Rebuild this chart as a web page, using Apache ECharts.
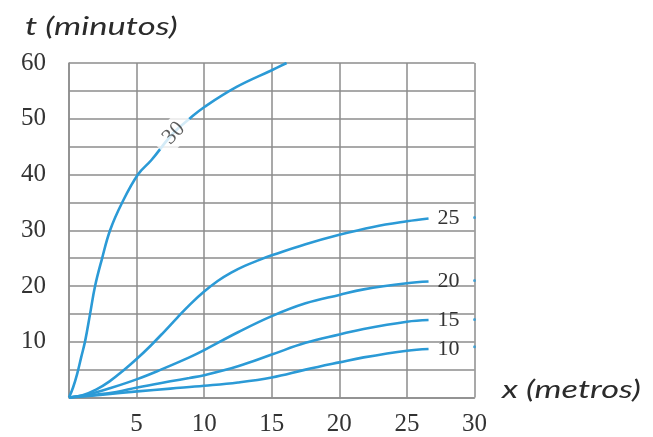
<!DOCTYPE html>
<html>
<head>
<meta charset="utf-8">
<script src="https://cdn.jsdelivr.net/npm/echarts@6/dist/echarts.min.js"></script>
<style>
  html, body { margin: 0; padding: 0; background: #fff; }
  #chart { width: 653px; height: 437px; }
</style>
</head>
<body>
<div id="chart"></div>
<script>
// Axis ticks
const xTicks = [0, 5, 10, 15, 20, 25, 30];
const yTicks = [0, 10, 20, 30, 40, 50, 60];

// Curve "30"
const x30 = [0, 0.3, 0.6, 0.9, 1.2, 1.56, 1.93, 2.42, 3.04, 3.9, 5.1, 6.1, 7.7, 8.96, 10.07, 12.4, 15, 16.1];
const t30 = [0, 1.8, 4.2, 7.2, 10.2, 15, 20, 24.7, 30, 34.8, 40, 42.6, 47.4, 50.1, 52.2, 55.7, 58.7, 60];
// Curve "25"
const x25 = [0, 1, 2, 3, 4, 5, 6, 7, 8, 9, 10, 11, 12, 13, 14, 15, 17.5, 20, 22.5, 25, 26.6];
const t25 = [0, 0.4, 1.4, 2.9, 4.8, 6.9, 9.2, 11.7, 14.3, 16.8, 19.0, 20.9, 22.4, 23.6, 24.6, 25.5, 27.5, 29.2, 30.6, 31.6, 32.1];
// Curve "20"
const x20 = [0, 1.5, 3.08, 5.05, 6.8, 8.9, 10, 12.5, 15, 17.5, 20, 21.8, 25, 26.6];
const t20 = [0, 0.6, 1.7, 3.3, 5.0, 7.2, 8.5, 11.7, 14.6, 16.9, 18.4, 19.4, 20.5, 20.8];
// Curve "15"
const x15 = [0, 2, 3.5, 5.05, 7.5, 8.9, 10, 12.5, 15, 17.5, 20, 21.8, 25, 26.6];
const t15 = [0, 0.5, 1.0, 1.8, 2.9, 3.5, 4.0, 5.6, 7.7, 9.8, 11.3, 12.3, 13.6, 13.9];
// Curve "10"
const x10 = [0, 2.5, 5.05, 7.5, 10, 12.5, 15, 17.5, 20, 21.8, 25, 26.6];
const t10 = [0, 0.5, 1.1, 1.6, 2.1, 2.7, 3.6, 5.0, 6.3, 7.2, 8.4, 8.7];

// Curve labels
const curveNames = ['30', '25', '20', '15', '10'];
const label30Pos = [7.75, 47.4];
const edgeMarks = [[30, 32.3], [30, 21.0], [30, 14.0], [30, 9.1]];

const BLUE = '#2b9ad6';
const GRID = '#8c8c8c';
const TXT = '#333333';
const SERIF = 'serif';

function zip(xs, ys) { return xs.map((x, i) => [x, ys[i]]); }

function curve(name, xs, ys, withEndLabel) {
  return {
    name: name,
    type: 'line',
    data: zip(xs, ys),
    smooth: 0.4,
    showSymbol: false,
    symbol: 'none',
    lineStyle: { color: BLUE, width: 2.6 },
    endLabel: withEndLabel ? {
      show: true,
      formatter: name,
      distance: 9,
      fontFamily: SERIF,
      fontSize: 22,
      color: TXT
    } : { show: false },
    z: 3
  };
}

const chart = echarts.init(document.getElementById('chart'), null, { renderer: 'canvas' });

const option = {
  animation: false,
  backgroundColor: '#ffffff',
  grid: { left: 69, right: 178.5, top: 63, bottom: 39.5, containLabel: false },
  xAxis: {
    type: 'value',
    min: xTicks[0],
    max: xTicks[xTicks.length - 1],
    interval: 5,
    axisLine: { show: true, lineStyle: { color: GRID, width: 1.5 } },
    axisTick: { show: false },
    splitLine: { show: true, lineStyle: { color: GRID, width: 1.5 } },
    axisLabel: {
      margin: 14,
      fontFamily: SERIF,
      fontSize: 25,
      color: TXT,
      formatter: v => (v === 0 ? '' : String(v))
    }
  },
  yAxis: {
    type: 'value',
    min: yTicks[0],
    max: yTicks[yTicks.length - 1],
    interval: 5,
    axisLine: { show: true, lineStyle: { color: GRID, width: 1.5 } },
    axisTick: { show: false },
    splitLine: { show: true, lineStyle: { color: GRID, width: 1.5 } },
    axisLabel: {
      margin: 23,
      fontFamily: SERIF,
      fontSize: 25,
      color: TXT,
      formatter: v => (v !== 0 && yTicks.indexOf(v) >= 0 ? String(v) : '')
    }
  },
  series: [
    curve(curveNames[0], x30, t30, false),
    curve(curveNames[1], x25, t25, true),
    curve(curveNames[2], x20, t20, true),
    curve(curveNames[3], x15, t15, true),
    curve(curveNames[4], x10, t10, true),
    {
      name: 'edge',
      type: 'scatter',
      data: edgeMarks,
      symbolSize: 3,
      itemStyle: { color: BLUE },
      z: 4
    },
    {
      name: 'label30',
      type: 'scatter',
      data: [label30Pos],
      symbolSize: 0,
      label: {
        show: true,
        position: 'inside',
        formatter: curveNames[0],
        rotate: 46,
        fontFamily: SERIF,
        fontSize: 22,
        color: TXT,
        backgroundColor: '#ffffff',
        padding: [3, 10, 1, 10]
      },
      z: 5
    }
  ],
  graphic: [
    {
      type: 'text',
      x: 25, y: 27,
      scaleX: 1.33,
      style: {
        text: 't (minutos)',
        font: 'italic 26px Lato, "Open Sans", sans-serif',
        fill: '#2b2b2b',
        textAlign: 'left',
        textVerticalAlign: 'middle'
      }
    },
    {
      type: 'text',
      x: 502, y: 390,
      scaleX: 1.32,
      style: {
        text: 'x (metros)',
        font: 'italic 26px Lato, "Open Sans", sans-serif',
        fill: '#2b2b2b',
        textAlign: 'left',
        textVerticalAlign: 'middle'
      }
    }
  ]
};

chart.setOption(option);
</script>
</body>
</html>
